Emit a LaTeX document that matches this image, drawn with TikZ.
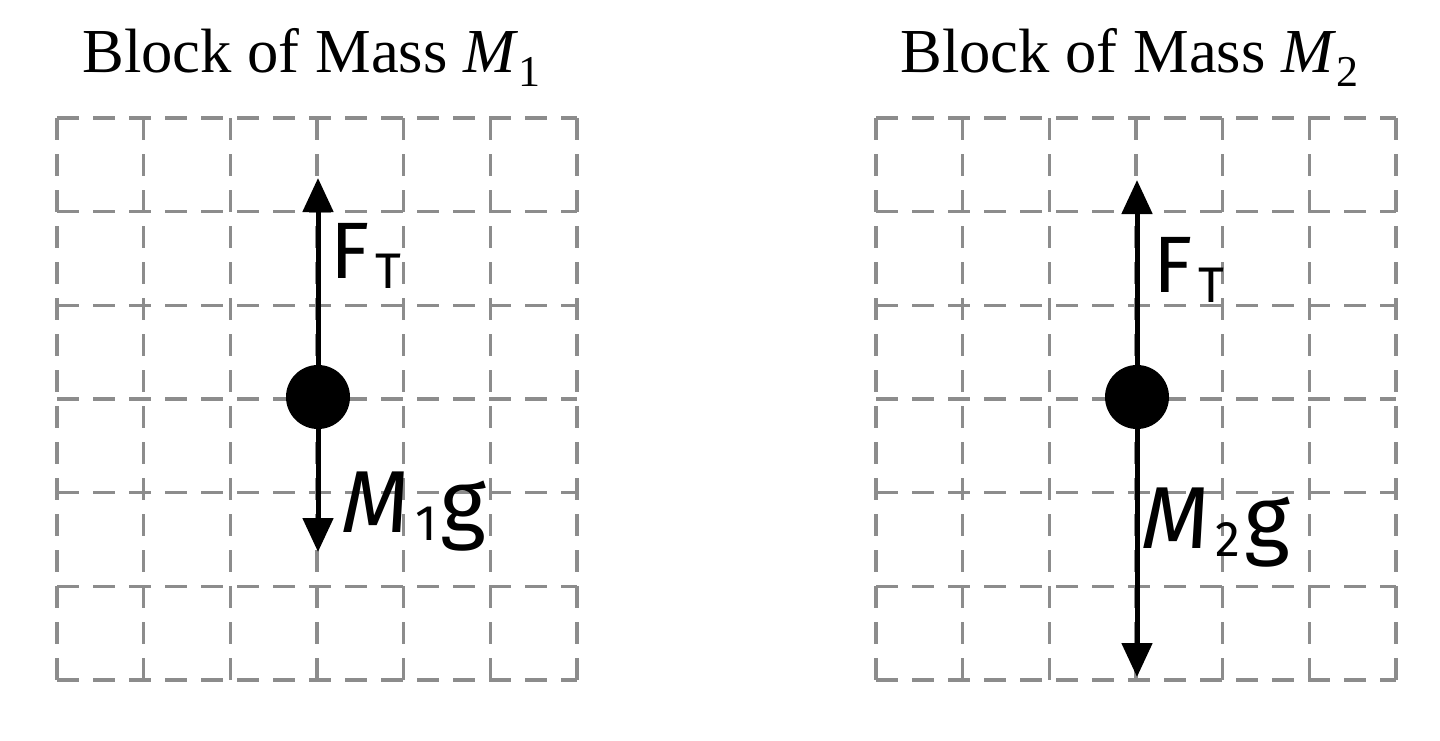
\documentclass[tikz,border=0pt]{standalone}
\usepackage{fontspec}
\setmainfont{Liberation Serif}
\newfontfamily\hand{Fira Sans}
\usetikzlibrary{arrows.meta}
\newcommand{\subsz}[1]{{\fontsize{25}{25}\selectfont #1}}
\begin{document}
\begin{tikzpicture}[x=0.5pt,y=-0.5pt,
  gridline/.style={draw=black!45, line width=1.6pt, dash pattern=on 11pt off 7pt},
  force/.style={line width=2.5pt, -{Triangle[width=15pt,length=17pt]}},
  dotnode/.style={circle, fill=black, minimum size=32pt, inner sep=0pt},
  lbl/.style={font=\hand\fontsize{40}{40}\selectfont, anchor=base west, inner sep=0pt},
  title/.style={font=\fontsize{31.3}{32}\selectfont, anchor=base west, inner sep=0pt}]
\useasboundingbox (0,0) rectangle (1440,740);
\foreach \ox in {57,876} {
  \foreach \i in {0,...,6} {
    \draw[gridline] (\ox+\i*86.67,118) -- (\ox+\i*86.67,680);
    \draw[gridline] (\ox,118+\i*93.67) -- (\ox+520,118+\i*93.67);
  }
}
\node[title] (t1) at (82,72) {Block of Mass \textit{M}\raisebox{-7pt}{\fontsize{22}{22}\selectfont 1}};
\node[title] (t2) at (900,72) {Block of Mass \textit{M}\raisebox{-7pt}{\fontsize{22}{22}\selectfont 2}};
\node[dotnode] (d1) at (318,397) {};
\node[dotnode] (d2) at (1137,397) {};
\coordinate (u1) at (318,178);
\coordinate (w1) at (318,552);
\coordinate (u2) at (1137,180);
\coordinate (w2) at (1137,677);
\draw[force] (d1.center) -- (u1);
\draw[force] (d1.center) -- (w1);
\draw[force] (d2.center) -- (u2);
\draw[force] (d2.center) -- (w2);
\node[lbl] (f1) at (330,278) {F\hspace{3pt}\raisebox{-5pt}{\subsz{T}}};
\node[lbl] (m1) at (341,532) {{\fontsize{44}{44}\selectfont\textit{M}}\hspace{3pt}\raisebox{-4pt}{\subsz{1}}\hspace{2pt}{\fontsize{44}{44}\selectfont g}};
\node[lbl] (f2) at (1153,292) {F\hspace{3pt}\raisebox{-5pt}{\subsz{T}}};
\node[lbl] (m2) at (1141,548) {{\fontsize{44}{44}\selectfont\textit{M}}\hspace{3pt}\raisebox{-4pt}{\subsz{2}}\hspace{2pt}{\fontsize{44}{44}\selectfont g}};
\end{tikzpicture}
\end{document}
